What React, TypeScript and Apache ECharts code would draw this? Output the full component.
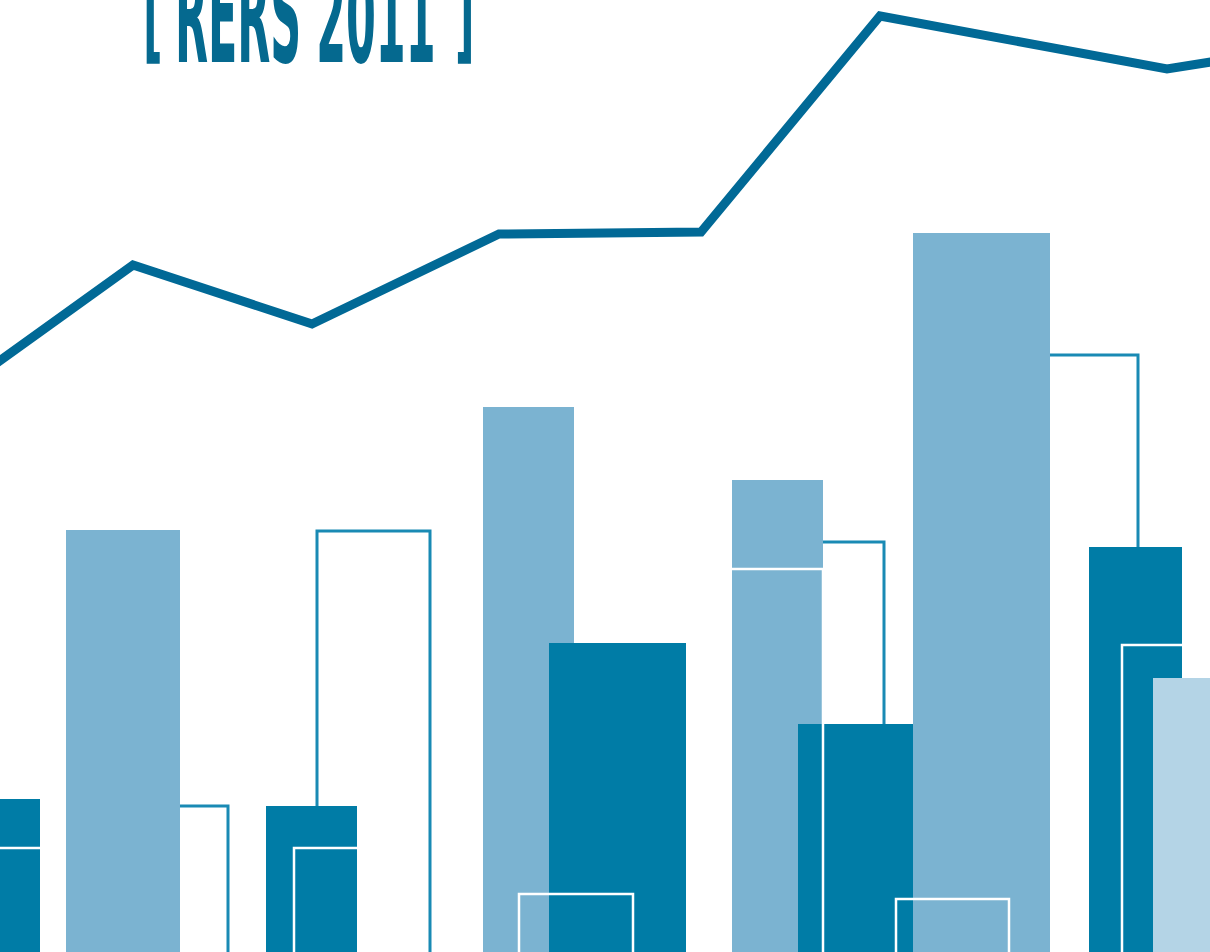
import React, { useEffect, useRef } from "react";
import * as echarts from "echarts";

// Trend line: [x position, height]
const linePoints: number[][] = [
  [-20, 577], [133, 687], [312, 628], [499, 718], [701, 720], [880, 936], [1167, 883], [1230, 893],
];

// Rectangles: [left, right, top height]
const outlineBars: number[][] = [
  [110, 228, 146], [317, 430, 421], [760, 884, 410], [1000, 1138, 597],
];
const lightBars: number[][] = [
  [66, 180, 422], [483, 574, 545], [732, 823, 472], [913, 1050, 719],
];
const darkBars: number[][] = [
  [-20, 40, 153], [266, 357, 146], [549, 686, 309], [798, 913, 228], [1089, 1182, 405],
];
const paleBars: number[][] = [[1153, 1240, 274]];
const whiteFrames: number[][] = [
  [-20, 52, 104], [294, 390, 104], [519, 633, 58], [710, 823, 383], [896, 1009, 53], [1122, 1240, 307],
];

const titleWord = "RERS 2011";
const bracketOpen = "[";
const bracketClose = "]";

const C_LINE = "#016996";
const C_TITLE = "#05698F";
const C_DARK = "#007CA6";
const C_LIGHT = "#7BB3D1";
const C_PALE = "#B4D4E6";
const C_OUTLINE = "#198AB4";

function rectSeries(name: string, data: number[][], style: any) {
  return {
    type: "custom",
    name,
    data,
    clip: false,
    renderItem: (params: any, api: any) => {
      const x0 = api.value(0);
      const x1 = api.value(1);
      const top = api.value(2);
      const p0 = api.coord([x0, top]);
      const p1 = api.coord([x1, -10]);
      return {
        type: "rect",
        shape: { x: p0[0], y: p0[1], width: p1[0] - p0[0], height: p1[1] - p0[1] },
        style,
      };
    },
  };
}

const titleFont = 'bold 130px "DejaVu Sans"';

export default function App() {
  const ref = useRef<HTMLDivElement>(null);
  useEffect(() => {
    if (!ref.current) return;
    const chart = echarts.init(ref.current, null, { renderer: "svg" });
    chart.setOption({
      animation: false,
      backgroundColor: "#ffffff",
      grid: { left: 0, right: 0, top: 0, bottom: 0 },
      xAxis: { type: "value", min: 0, max: 1210, show: false },
      yAxis: { type: "value", min: 0, max: 952, show: false },
      graphic: [
        {
          type: "text",
          x: 143,
          y: 12,
          scaleX: 0.33,
          scaleY: 0.82,
          style: { text: bracketOpen, font: titleFont, fill: C_TITLE, textAlign: "left", textVerticalAlign: "middle" },
          z: 10,
        },
        {
          type: "text",
          x: 175,
          y: 17,
          scaleX: 0.33,
          style: { text: titleWord, font: titleFont, fill: C_TITLE, textAlign: "left", textVerticalAlign: "middle" },
          z: 10,
        },
        {
          type: "text",
          x: 455,
          y: 12,
          scaleX: 0.33,
          scaleY: 0.82,
          style: { text: bracketClose, font: titleFont, fill: C_TITLE, textAlign: "left", textVerticalAlign: "middle" },
          z: 10,
        },
      ],
      series: [
        rectSeries("outline", outlineBars, { fill: "transparent", stroke: C_OUTLINE, lineWidth: 3 }),
        rectSeries("light", lightBars, { fill: C_LIGHT }),
        rectSeries("dark", darkBars, { fill: C_DARK }),
        rectSeries("pale", paleBars, { fill: C_PALE }),
        rectSeries("frames", whiteFrames, { fill: "transparent", stroke: "#ffffff", lineWidth: 2.5 }),
        {
          type: "line",
          data: linePoints,
          symbol: "none",
          clip: true,
          lineStyle: { width: 9, color: C_LINE, join: "miter", cap: "butt" },
          z: 5,
        },
      ],
    });
    return () => chart.dispose();
  }, []);
  return (
    <div
      ref={ref}
      style={{ position: "fixed", left: 0, top: 0, width: 1210, height: 952 }}
    />
  );
}
